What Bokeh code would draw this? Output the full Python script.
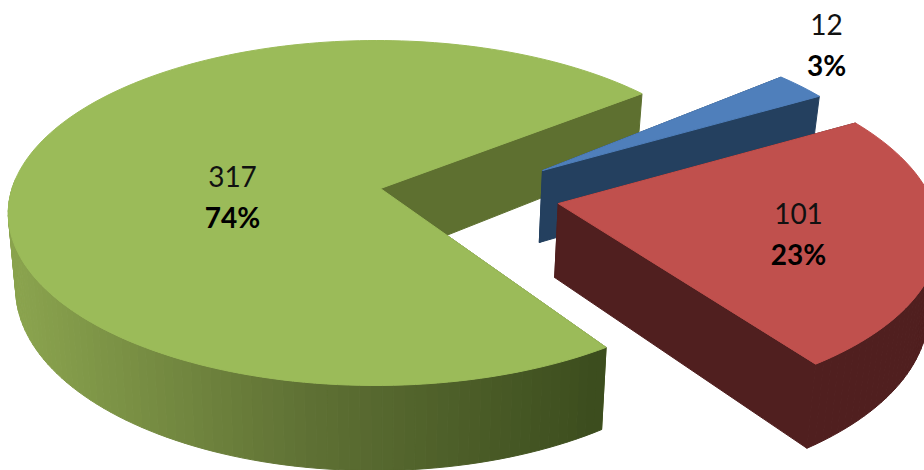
import math

from bokeh.core.properties import value
from bokeh.embed import file_html
from bokeh.models import ColumnDataSource, Range1d
from bokeh.plotting import figure
from bokeh.resources import INLINE

# Pie values, in clockwise drawing order from the start angle
categories = ["blue", "red", "green"]
counts = [12, 101, 317]
percent_labels = ["3%", "23%", "74%"]

# Colours of each slice: top face, side face
top_colors = ["#4F7FBB", "#C0504D", "#9BBB59"]
side_colors = ["#24405F", "#501F1F", "#5E7030"]
# Outer rim of the green slice shades from left to right
rim_stops = [(20, (0x8A, 0xA3, 0x4E)), (300, (0x60, 0x72, 0x35)), (600, (0x3C, 0x4D, 0x1E))]

# View of the pie: screen origin of the disc centre, vertical radius, tilt perspective, thickness
X0, Y0 = 380.0, 188.0
RY = 169.0
PERSPECTIVE = 0.142
THICKNESS = 73.0
BASE_SHRINK = 0.98
START_ANGLE = -38.0

# Per-slice view: explosion offset in disc units, radius, horizontal scale,
# sideways perspective, slant of the exploded slices
offsets = [(0.447, -0.108), (0.477, 0.088), (0.0, 0.0)]
radii = [0.95, 1.0, 1.0]
x_scales = [368.0, 368.0, 364.0]
yaws = [0.0, 0.0, 0.012]
slants = [-0.02, -0.015, 0.0]

# Label centres on the page, and the gap between the two lines
label_centres = [(826, 24), (798, 213), (232, 176)]
LINE_GAP = 40


def project(u, v, depth, scale, yaw):
    den = 1.0 - PERSPECTIVE * v + yaw * u
    x = X0 + scale * u / den
    y = Y0 + RY * v / den
    if depth:
        x = X0 + (x - X0) * BASE_SHRINK
        y += THICKNESS / den
    return x, y


def rim_color(x):
    if x <= rim_stops[0][0]:
        c = rim_stops[0][1]
    elif x >= rim_stops[-1][0]:
        c = rim_stops[-1][1]
    else:
        for (x1, c1), (x2, c2) in zip(rim_stops, rim_stops[1:]):
            if x1 <= x <= x2:
                t = (x - x1) / (x2 - x1)
                c = tuple(int(a + (b - a) * t) for a, b in zip(c1, c2))
                break
    return "#%02X%02X%02X" % c


p = figure(
    width=924, height=470, output_backend="svg", toolbar_location=None,
    x_range=Range1d(0, 924), y_range=Range1d(470, 0),
    min_border=0, outline_line_color=None, background_fill_color="white",
)
p.axis.visible = False
p.grid.visible = False

total = sum(counts)
spans = []
angle = START_ANGLE
for n in counts:
    sweep = 360.0 * n / total
    spans.append((angle, angle + sweep))
    angle += sweep

# Slices are painted green first, then blue, then red in front
for i in [2, 0, 1]:
    a0, a1 = spans[i]
    ou, ov = offsets[i]
    r = radii[i]
    apex_x = project(ou, ov, 0, x_scales[i], yaws[i])[0]

    def place(u, v, depth=0.0):
        x, y = project(u, v, depth, x_scales[i], yaws[i])
        return x, y + slants[i] * (x - apex_x)

    steps = max(6, int((a1 - a0) / 1.5))
    angles = [a0 + (a1 - a0) * s / steps for s in range(steps + 1)]
    pts = [(ou + r * math.cos(math.radians(a)), ov + r * math.sin(math.radians(a))) for a in angles]

    # cut walls, running from the apex out to the rim
    for (eu, ev) in (pts[0], pts[-1]):
        corners = [place(ou, ov), place(eu, ev), place(eu, ev, 1), place(ou, ov, 1)]
        p.patch([c[0] for c in corners], [c[1] for c in corners],
                fill_color=side_colors[i], line_color=side_colors[i], line_width=1)

    # outer rim on the side facing the viewer, in narrow strips so the green one can shade
    xs, ys, cols = [], [], []
    for j in range(steps):
        if math.sin(math.radians((angles[j] + angles[j + 1]) / 2)) < -0.05:
            continue
        (u1, v1), (u2, v2) = pts[j], pts[j + 1]
        corners = [place(u1, v1), place(u2, v2), place(u2, v2, 1), place(u1, v1, 1)]
        xs.append([c[0] for c in corners])
        ys.append([c[1] for c in corners])
        mid = (corners[0][0] + corners[1][0]) / 2
        cols.append(rim_color(mid) if categories[i] == "green" else side_colors[i])
    if xs:
        p.patches(xs="xs", ys="ys", fill_color="cols", line_color="cols", line_width=1,
                  source=ColumnDataSource(dict(xs=xs, ys=ys, cols=cols)))

    # top face
    outline = [place(ou, ov)] + [place(u, v) for u, v in pts]
    p.patch([c[0] for c in outline], [c[1] for c in outline],
            fill_color=top_colors[i], line_color=top_colors[i], line_width=1)

# Value and percentage labels
value_src = ColumnDataSource(dict(
    x=[c[0] for c in label_centres], y=[c[1] for c in label_centres],
    text=[str(n) for n in counts]))
pct_src = ColumnDataSource(dict(
    x=[c[0] for c in label_centres], y=[c[1] + LINE_GAP for c in label_centres],
    text=percent_labels))
p.text(x="x", y="y", text="text", source=value_src, text_font=value("Lato"),
       text_font_size="28px", text_color="#111111", text_align="center", text_baseline="middle")
p.text(x="x", y="y", text="text", source=pct_src, text_font=value("Lato"),
       text_font_size="28px", text_font_style="bold", text_color="#000000",
       text_align="center", text_baseline="middle")

open("out.html", "w").write(file_html(p, INLINE))
